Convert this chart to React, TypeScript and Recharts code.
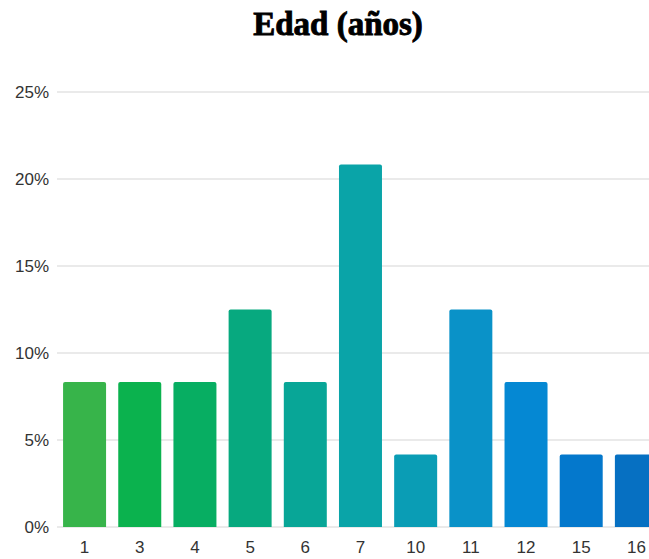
import React from "react";
import { BarChart, Bar, XAxis, YAxis, CartesianGrid, Cell } from "recharts";

// Age (years) of respondents, share of 24 answers
const ages = ["1", "3", "4", "5", "6", "7", "10", "11", "12", "15", "16"];
const shares = [8.33, 8.33, 8.33, 12.5, 8.33, 20.83, 4.17, 12.5, 8.33, 4.17, 4.17];
const barColors = [
  "#37b44a",
  "#0bb24e",
  "#07ae62",
  "#07a97f",
  "#08a697",
  "#0aa4a8",
  "#0a9db5",
  "#0a92c8",
  "#0588d3",
  "#0478cc",
  "#0670c2",
];
const yTicks = [0, 5, 10, 15, 20, 25];

const data = ages.map((age, i) => ({ age, share: shares[i] }));

const tickStyle = { fill: "#333", fontSize: 17, fontFamily: "'Liberation Sans', Arial, sans-serif" };

export default function App() {
  return (
    <div
      style={{
        position: "absolute",
        left: 0,
        top: 0,
        width: 649,
        height: 559,
        overflow: "hidden",
        background: "#fff",
      }}
    >
      <div
        style={{
          position: "absolute",
          left: 0,
          top: 4,
          width: 676,
          textAlign: "center",
          fontFamily: "'Liberation Serif', 'DejaVu Serif', serif",
          fontWeight: 900,
          fontSize: 33,
          color: "#000",
          lineHeight: "40px",
          WebkitTextStroke: "0.9px #000",
        }}
      >
        Edad (años)
      </div>
      <BarChart
        width={676}
        height={559}
        data={data}
        margin={{ top: 92, right: 12, bottom: 2, left: 0 }}
        barCategoryGap="11%"
      >
        <CartesianGrid vertical={false} stroke="#e3e3e3" strokeWidth={1.5} />
        <YAxis
          width={57}
          domain={[0, 25]}
          ticks={yTicks}
          tickFormatter={(v) => `${v}%`}
          axisLine={false}
          tickLine={false}
          tick={tickStyle}
        />
        <XAxis
          dataKey="age"
          height={30}
          axisLine={false}
          tickLine={false}
          tickMargin={8}
          interval={0}
          tick={tickStyle}
        />
        <Bar dataKey="share" radius={[2, 2, 0, 0]} isAnimationActive={false}>
          {data.map((d, i) => (
            <Cell key={d.age} fill={barColors[i]} />
          ))}
        </Bar>
      </BarChart>
    </div>
  );
}
